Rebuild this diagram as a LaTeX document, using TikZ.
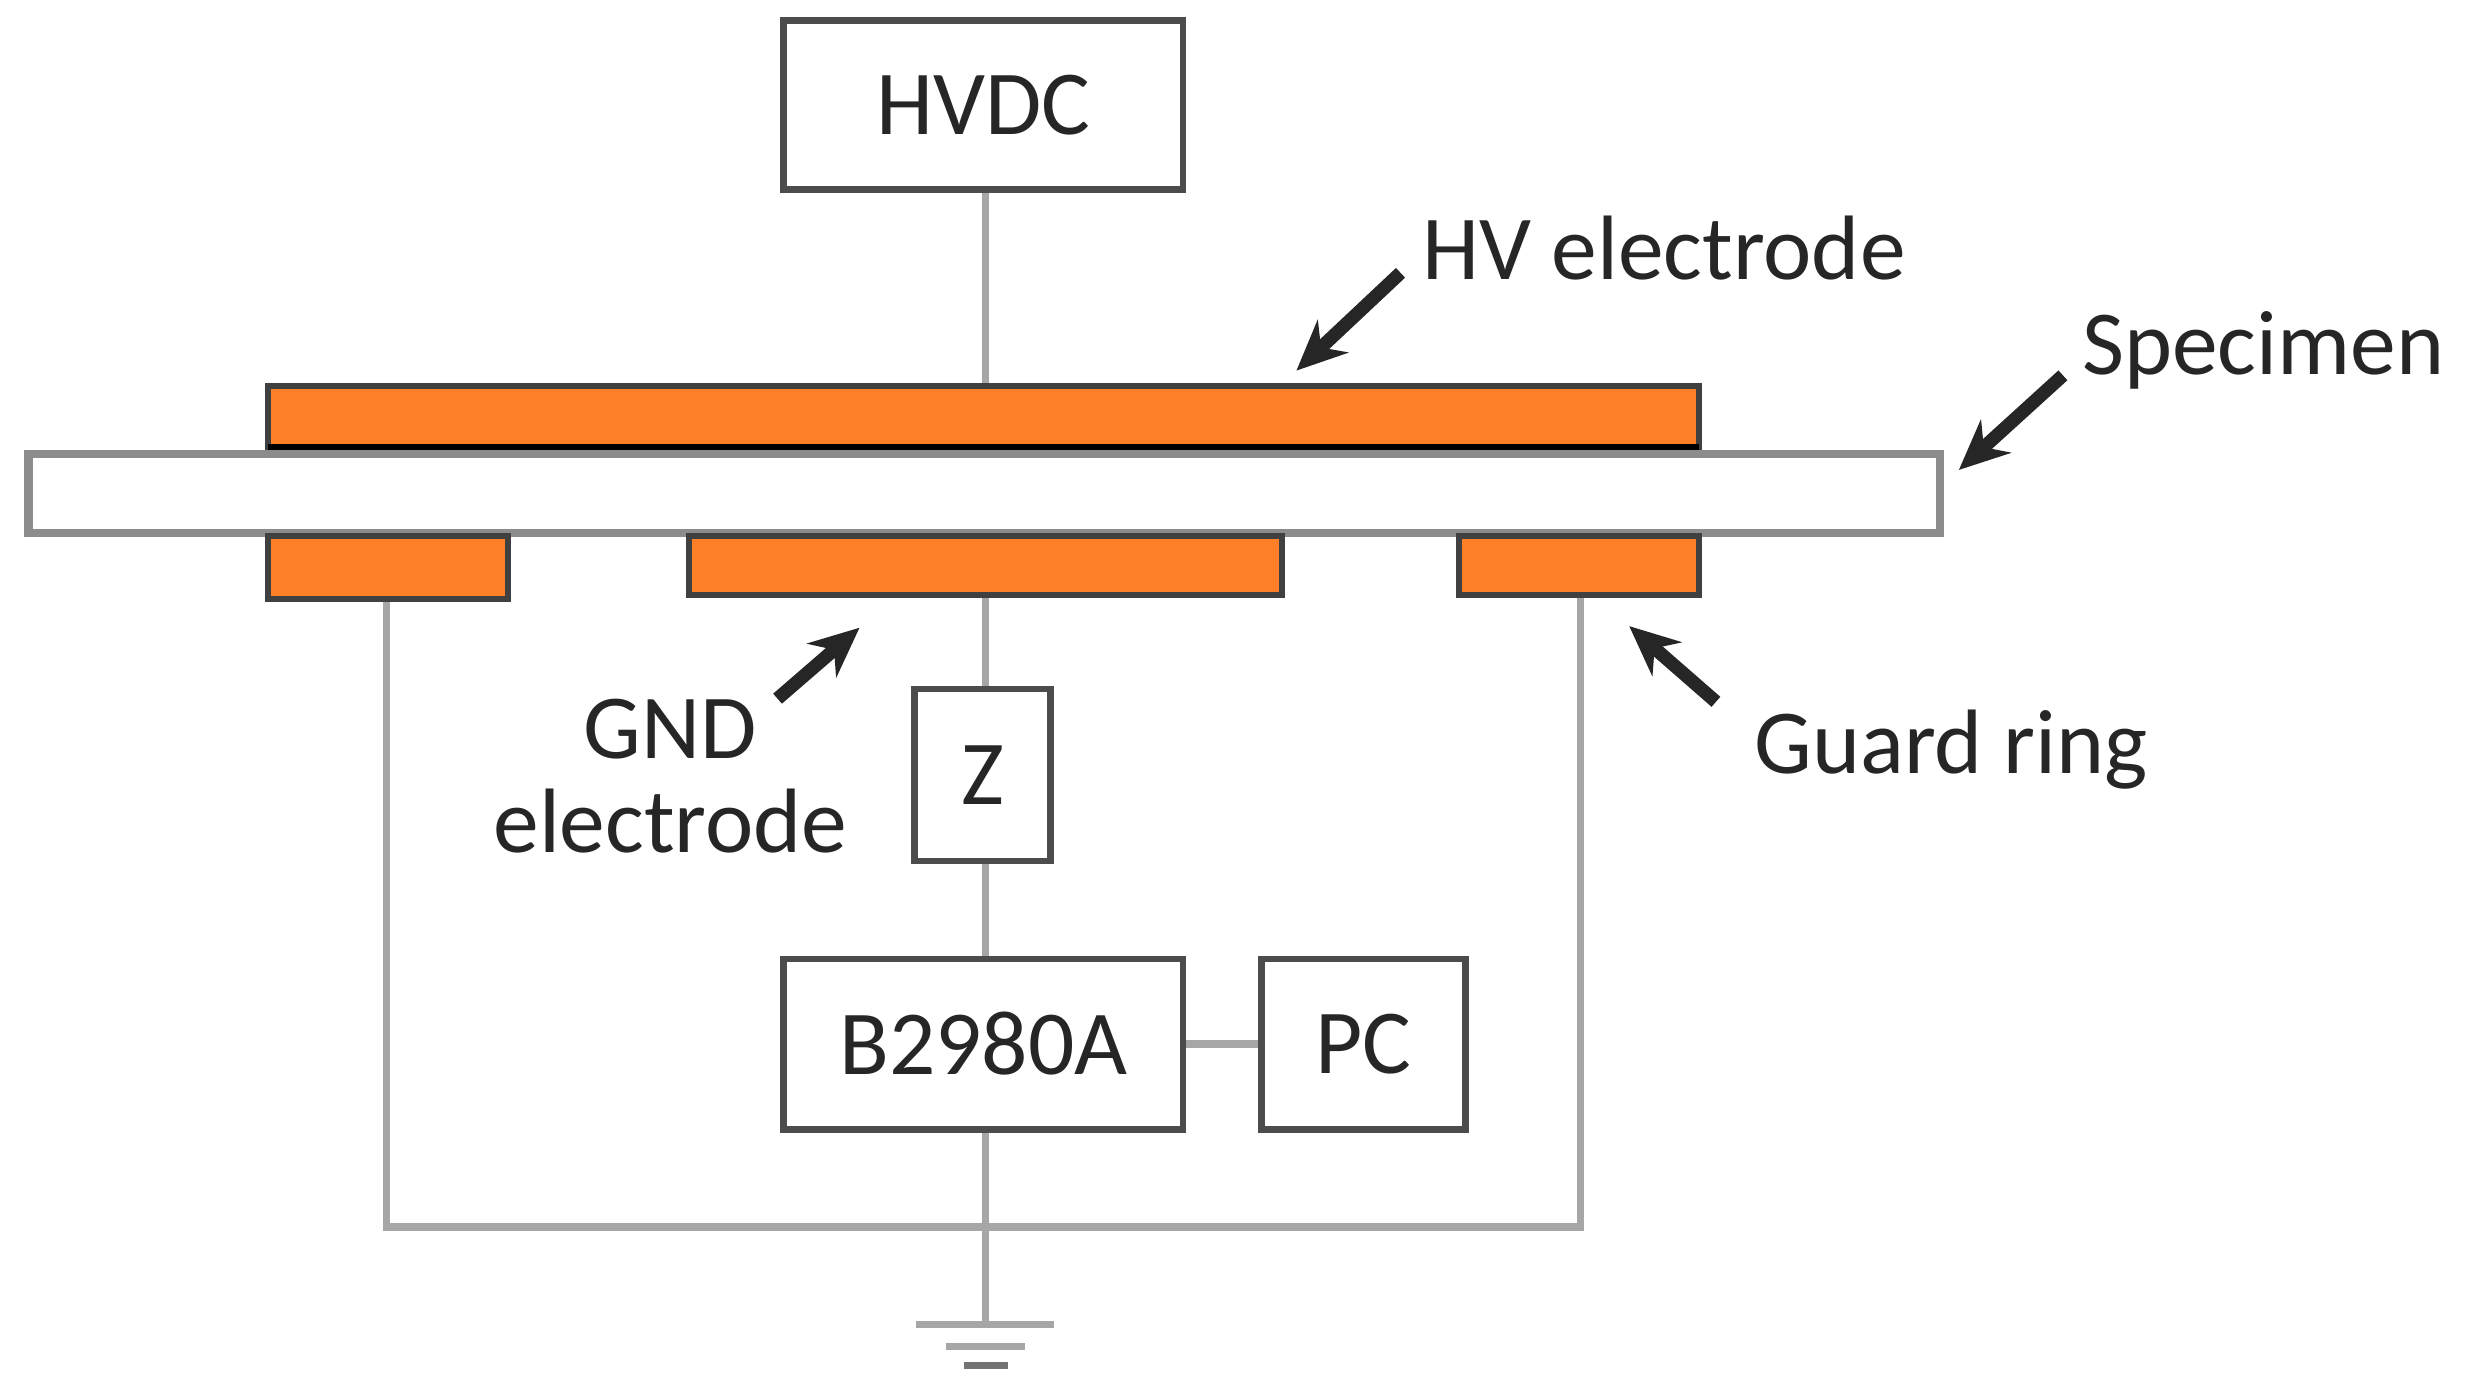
\documentclass[tikz,border=0pt]{standalone}
\usepackage{fontspec}
\setmainfont{Carlito}
\begin{document}
\begin{tikzpicture}[x=0.01cm,y=-0.01cm,
  wire/.style={draw=black!35,line width=1.3pt},
  box/.style={draw=black!70,line width=1.2pt,fill=white},
  elec/.style={fill={rgb,255:red,253;green,127;blue,39},draw=black!75,line width=1.1pt},
  lbl/.style={font=\fontsize{16.5}{19}\selectfont,text=black!85},
  arr/.style={-{Stealth[length=9pt,width=8pt]},line width=2.4pt,black!85}]
\useasboundingbox (0,0) rectangle (1568,883);
\usetikzlibrary{arrows.meta}
% wires
\draw[wire] (625,120) -- (625,245);
\draw[wire] (245,380) -- (245,778) -- (1002,778) -- (1002,377);
\draw[wire] (625,377) -- (625,840);
\draw[wire] (750,662) -- (800,662);
\draw[wire] (581,840) -- (668,840);
\draw[wire] (600,854) -- (650,854);
\draw[wire,black!55] (611,866) -- (639,866);
% electrodes & specimen
\draw[elec] (170,245) rectangle (1077,285);
\draw[black,line width=2pt] (170,285) -- (1077,285);
\draw[draw=black!45,line width=1.5pt,fill=white] (18,288) rectangle (1230,338);
\draw[elec] (170,340) rectangle (322,380);
\draw[elec] (437,340) rectangle (813,377);
\draw[elec] (925,340) rectangle (1077,377);
% boxes
\node[box,lbl,minimum width=2.53cm,minimum height=1.07cm] (hv) at (623.5,66.5) {HVDC};
\node[box,lbl,minimum width=0.86cm,minimum height=1.09cm] (z) at (623,491.5) {Z};
\node[box,lbl,minimum width=2.53cm,minimum height=1.08cm] (b) at (623.5,662) {B2980A};
\node[box,lbl,minimum width=1.29cm,minimum height=1.08cm] (pc) at (864.5,662) {PC};
% labels and arrows
\node[lbl] (thv) at (1055,157) {HV electrode};
\coordinate (hvs) at (888,173); \coordinate (hve) at (822,235);
\draw[arr] (hvs) -- (hve);
\node[lbl] (tsp) at (1435,222) {Specimen};
\coordinate (sps) at (1308,238); \coordinate (spe) at (1242,298);
\draw[arr] (sps) -- (spe);
\node[lbl,align=center] (tgnd) at (425,492) {GND\\[-2pt]electrode};
\coordinate (gs) at (493,443); \coordinate (ge) at (545,398);
\draw[arr] (gs) -- (ge);
\node[lbl] (tgr) at (1237,475) {Guard ring};
\coordinate (grs) at (1088,445); \coordinate (gre) at (1033,397);
\draw[arr] (grs) -- (gre);
\end{tikzpicture}
\end{document}
